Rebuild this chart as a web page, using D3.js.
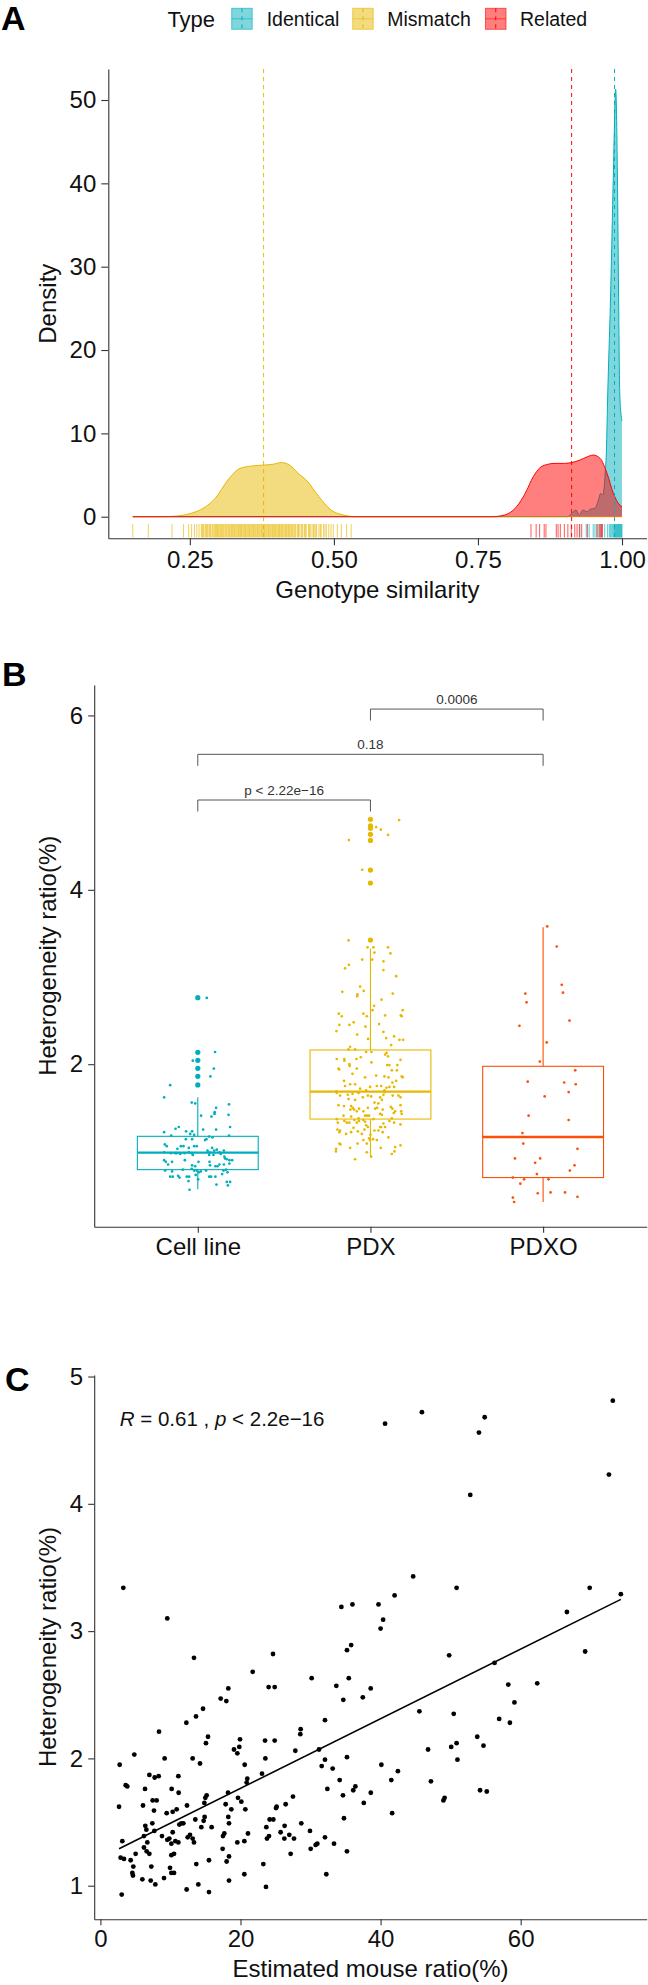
<!DOCTYPE html>
<html><head><meta charset="utf-8">
<script src="https://cdn.jsdelivr.net/npm/d3@7"></script>
<style>body{margin:0;background:#fff}svg{display:block}</style>
</head><body><svg id="c" width="648" height="1985"></svg>
<script>
// ---------------- Panel A data ----------------
const types = ["Identical", "Mismatch", "Related"];
const typeMeans = [0.987, 0.378, 0.9126];
const densityIdentical = [[0.151,0],[0.905,0],[0.913,0.4],[0.920,0.8],[0.926,0.2],[0.932,0.8],[0.939,0.6],[0.945,0.9],[0.953,1.0],[0.959,2.0],[0.963,2.8],[0.967,2.6],[0.971,5.4],[0.973,8],[0.975,14],[0.980,26],[0.985,41],[0.989,51.3],[0.992,41],[0.994,27],[0.996,15],[0.998,12.5],[1.0,11.5]];
const densityMismatch = [[0.151,0],[0.200,0],[0.230,0.1],[0.252,0.4],[0.273,1.0],[0.294,2.2],[0.316,4.4],[0.337,5.8],[0.359,6.1],[0.380,6.2],[0.395,6.3],[0.409,6.5],[0.423,6.2],[0.438,5.2],[0.452,4.4],[0.474,2.4],[0.495,0.8],[0.517,0.2],[0.538,0],[1.0,0]];
const densityRelated = [[0.151,0],[0.774,0],[0.796,0.2],[0.817,1.2],[0.832,2.8],[0.846,4.8],[0.858,5.9],[0.872,6.3],[0.882,6.4],[0.900,6.4],[0.913,6.5],[0.927,6.8],[0.940,7.2],[0.950,7.4],[0.962,7.0],[0.974,5.2],[0.985,2.8],[0.996,1.4],[1.0,1.2]];
const rugMismatch = [0.151,0.178,0.219,0.239,0.248,0.253,0.258,0.262,0.266,0.27,0.2715,0.273,0.2745,0.277,0.279,0.2805,0.283,0.2845,0.286,0.2885,0.29,0.292,0.2935,0.295,0.2965,0.298,0.2995,0.301,0.303,0.3045,0.306,0.3075,0.309,0.311,0.3125,0.314,0.316,0.3175,0.319,0.321,0.3225,0.324,0.326,0.3275,0.329,0.331,0.333,0.3345,0.336,0.338,0.3395,0.341,0.343,0.345,0.3465,0.348,0.35,0.352,0.3535,0.355,0.357,0.359,0.3605,0.362,0.364,0.366,0.3675,0.369,0.371,0.373,0.3745,0.376,0.378,0.3795,0.381,0.383,0.385,0.3865,0.388,0.39,0.392,0.3935,0.395,0.397,0.3985,0.4,0.402,0.404,0.4055,0.407,0.409,0.4105,0.412,0.414,0.416,0.4175,0.419,0.421,0.4225,0.424,0.426,0.4275,0.429,0.431,0.4325,0.434,0.437,0.4385,0.44,0.443,0.4445,0.446,0.449,0.4505,0.452,0.456,0.4575,0.459,0.462,0.4645,0.466,0.4685,0.47,0.474,0.4765,0.478,0.482,0.4845,0.487,0.491,0.495,0.499,0.506,0.513,0.522,0.530];
const rugRelated = [0.842,0.851,0.857,0.865,0.868,0.886,0.889,0.893,0.900,0.906,0.912,0.918,0.922,0.926,0.930,0.940,0.957,0.960,0.963,0.964,0.966];
const rugIdentical = [0.927,0.938,0.943,0.950,0.953,0.956,0.961,0.965,0.970,0.975,0.978,0.980,0.982,0.984,0.985,0.987,0.988,0.989,0.990,0.991,0.992,0.993,0.994,0.995,0.996,0.997,0.998,0.999,1.0];
const ticksA_x = [0.25, 0.50, 0.75, 1.00];
const tickLabelsA_x = ["0.25", "0.50", "0.75", "1.00"];
const ticksA_y = [0, 10, 20, 30, 40, 50];

// ---------------- Panel B data ----------------
const groups = ["Cell line", "PDX", "PDXO"];
const boxQ1 = [0.791, 1.371, 0.70];
const boxMedian = [0.986, 1.685, 1.165];
const boxQ3 = [1.173, 2.163, 1.976];
const whiskerLow = [0.565, 0.94, 0.42];
const whiskerHigh = [1.62, 3.328, 3.57];
const outliersCell = [2.763, 2.136, 2.045, 1.953, 1.861, 1.762];
const outliersPDX = [4.808, 4.735, 4.705, 4.636, 4.567, 4.227, 4.078, 3.424];
const outliersPDXO = [];
const pointsCell = [[0.052,2.76],[0.1,2.14],[-0.029,2.04],[0.093,1.95],[0.073,1.86],[-0.16,1.76],[-0.195,1.62],[-0.035,1.56],[-0.015,1.55],[0.106,1.50],[0.181,1.54],[0.098,1.45],[0.097,1.43],[0.079,1.40],[0.019,1.41],[0.178,1.42],[0.187,1.28],[-0.11,1.28],[-0.129,1.26],[-0.068,1.23],[-0.033,1.23],[-0.195,1.22],[0.031,1.25],[0.106,1.25],[-0.154,1.18],[-0.044,1.20],[-0.021,1.19],[0.066,1.17],[0.085,1.16],[-0.069,1.14],[-0.033,1.14],[0.042,1.13],[0.05,1.14],[0.181,1.18],[-0.191,1.08],[-0.18,1.06],[-0.118,1.03],[-0.098,1.06],[-0.083,1.06],[-0.052,1.04],[-0.021,1.06],[-0.006,1.06],[0.083,1.04],[0.095,1.01],[0.11,1.02],[0.125,0.99],[0.151,1.01],[-0.195,0.99],[-0.156,0.98],[-0.131,0.98],[-0.102,0.97],[-0.077,0.98],[-0.052,0.99],[-0.035,0.98],[0.056,1.01],[0.068,0.99],[0.133,0.97],[0.158,0.92],[0.168,0.91],[0.183,0.90],[0.199,0.90],[0.154,0.94],[-0.195,0.90],[-0.185,0.88],[-0.149,0.88],[-0.172,0.85],[-0.075,0.90],[-0.033,0.84],[-0.015,0.83],[0.004,0.88],[0.068,0.88],[0.071,0.84],[0.102,0.83],[0.114,0.83],[0.125,0.85],[0.183,0.86],[0.151,0.85],[0.066,0.96],[0.091,0.96],[-0.029,0.96],[-0.121,0.98],[-0.189,0.78],[-0.149,0.77],[-0.087,0.79],[-0.035,0.80],[-0.021,0.78],[-0.006,0.78],[0.006,0.76],[0.017,0.77],[0.048,0.78],[0.149,0.78],[0.164,0.79],[0.172,0.76],[0.141,0.74],[-0.012,0.73],[-0.16,0.71],[-0.145,0.71],[-0.114,0.72],[-0.106,0.70],[-0.064,0.71],[-0.05,0.71],[0.066,0.71],[0.077,0.71],[0.102,0.71],[0.002,0.68],[-0.054,0.66],[0.168,0.65],[0.187,0.65],[0.108,0.62],[0.174,0.61],[-0.048,0.56]];
const pointsPDX = [[0.166,4.80],[0.033,4.72],[0.06,4.69],[0.102,4.63],[-0.125,4.57],[-0.048,4.23],[-0.127,3.42],[-0.017,3.34],[0.017,3.34],[0.102,3.34],[0.023,3.28],[0.116,3.27],[-0.048,3.20],[0.01,3.20],[0.075,3.18],[-0.125,3.14],[-0.147,3.10],[0.075,3.08],[0.149,3.01],[-0.06,2.89],[-0.163,2.83],[-0.075,2.80],[-0.077,2.78],[-0.039,2.84],[0.129,2.81],[0.064,2.74],[0.021,2.67],[0.012,2.62],[-0.183,2.58],[-0.166,2.55],[-0.041,2.58],[-0.021,2.55],[0.085,2.56],[0.187,2.62],[0.176,2.56],[0.181,2.55],[-0.097,2.48],[-0.122,2.45],[-0.18,2.45],[-0.197,2.38],[-0.029,2.43],[0.05,2.46],[0.075,2.37],[-0.077,2.34],[-0.014,2.29],[0.091,2.30],[0.137,2.32],[0.168,2.28],[0.189,2.28],[0.12,2.22],[-0.118,2.20],[-0.127,2.17],[-0.089,2.17],[-0.025,2.14],[0.006,2.14],[0.085,2.11],[0.102,2.09],[0.093,2.13],[-0.195,2.06],[-0.151,2.06],[-0.151,2.04],[-0.056,2.08],[-0.081,2.06],[0.006,2.02],[-0.185,1.95],[-0.181,1.94],[-0.122,2.0],[-0.12,1.98],[-0.079,1.95],[-0.104,1.89],[-0.031,1.85],[0.033,1.87],[0.081,1.86],[0.097,1.99],[0.11,1.99],[0.124,1.93],[0.156,1.99],[0.153,1.93],[0.174,2.05],[0.181,1.86],[0.187,1.85],[0.149,1.81],[0.104,1.85],[0.127,1.79],[0.137,1.74],[-0.153,1.81],[-0.118,1.77],[-0.147,1.75],[-0.089,1.77],[-0.06,1.72],[-0.025,1.70],[-0.002,1.74],[0.037,1.75],[0.062,1.75],[0.081,1.70],[0.093,1.73],[0.11,1.74],[-0.197,1.69],[-0.195,1.67],[-0.176,1.64],[-0.131,1.65],[-0.104,1.66],[-0.069,1.67],[-0.044,1.62],[0.004,1.63],[0.056,1.62],[0.075,1.65],[0.083,1.68],[0.129,1.64],[0.162,1.64],[0.174,1.62],[-0.089,1.59],[-0.127,1.60],[-0.015,1.64],[0.023,1.56],[0.046,1.55],[0.066,1.59],[-0.185,1.53],[-0.153,1.52],[-0.112,1.52],[-0.102,1.50],[-0.095,1.48],[-0.066,1.49],[-0.116,1.48],[-0.079,1.46],[-0.041,1.46],[-0.015,1.50],[0.027,1.49],[0.039,1.50],[0.071,1.48],[0.118,1.51],[0.127,1.49],[0.143,1.46],[0.135,1.44],[0.174,1.53],[0.181,1.43],[0.178,1.46],[0.056,1.43],[0.066,1.42],[-0.156,1.41],[-0.112,1.40],[-0.031,1.41],[-0.019,1.41],[-0.008,1.41],[-0.069,1.38],[-0.195,1.37],[-0.189,1.33],[-0.151,1.35],[-0.137,1.33],[-0.122,1.33],[-0.093,1.36],[-0.079,1.33],[-0.066,1.35],[-0.041,1.36],[-0.031,1.34],[0.017,1.37],[-0.025,1.30],[-0.015,1.28],[0.11,1.35],[0.137,1.33],[0.174,1.31],[0.124,1.38],[-0.191,1.25],[-0.176,1.24],[-0.18,1.22],[-0.141,1.20],[-0.112,1.22],[-0.098,1.27],[-0.073,1.23],[-0.05,1.20],[-0.035,1.25],[0,1.19],[0.023,1.24],[0.046,1.24],[0.056,1.28],[0.062,1.28],[0.075,1.32],[0.085,1.28],[0.104,1.16],[0.071,1.22],[-0.008,1.15],[-0.002,1.13],[0.015,1.14],[-0.041,1.13],[-0.075,1.09],[-0.021,1.09],[-0.18,1.09],[-0.174,1.08],[-0.118,1.04],[-0.199,1.03],[-0.2,1.0],[-0.089,0.91],[-0.021,0.99],[0.004,0.94],[0.06,1.04],[0.124,0.97],[0.139,1.0],[0.143,1.05],[0.174,1.07],[0.037,1.13]];
const pointsPDXO = [[0.024,3.58],[0.079,3.35],[0.108,2.91],[0.115,2.82],[-0.103,2.81],[-0.096,2.71],[0.153,2.50],[-0.137,2.44],[0.021,2.25],[-0.019,2.03],[0.186,1.93],[-0.089,1.80],[0.122,1.79],[0.189,1.77],[0.148,1.68],[0.009,1.63],[-0.084,1.41],[0.148,1.36],[-0.12,1.21],[-0.115,1.09],[0.199,1.03],[-0.163,0.92],[-0.017,0.92],[-0.046,0.87],[0.182,0.84],[0.155,0.78],[-0.036,0.74],[-0.175,0.70],[-0.11,0.68],[0.031,0.68],[-0.132,0.63],[-0.031,0.52],[0.043,0.53],[0.127,0.53],[-0.175,0.47],[-0.168,0.42],[0.199,0.48]];
const compPairs = [[1, 2], [1, 3], [2, 3]];
const compLabels = ["p < 2.22e\u221216", "0.18", "0.0006"];
const compLevels = [5.03, 5.554, 6.073];
const ticksB_y = [2, 4, 6];

// ---------------- Panel C data ----------------
const mousePoints = [[3.27,3.34],[9.55,3.10],[34.4,3.19],[13.36,2.79],[24.64,2.82],[21.74,2.68],[30.16,2.63],[24.02,2.56],[24.88,2.56],[33.68,2.57],[34.68,2.46],[18.26,2.55],[17.17,2.47],[17.98,2.45],[14.65,2.39],[13.65,2.33],[12.27,2.28],[8.37,2.21],[32.06,2.30],[15.36,2.17],[15.07,2.12],[19.93,2.15],[19.07,2.07],[19.55,2.04],[19.83,2.09],[23.5,2.14],[24.88,2.14],[28.59,2.23],[28.54,2.19],[27.83,2.06],[31.21,2.07],[4.84,2.03],[2.75,1.95],[9.17,2.0],[13.17,2.0],[14.22,1.96],[20.6,1.95],[23.55,2.0],[32.06,1.99],[31.59,1.94],[33.16,1.92],[6.99,1.87],[7.75,1.85],[8.32,1.86],[3.61,1.79],[3.84,1.78],[10.17,1.76],[11.13,1.86],[11.17,1.73],[6.37,1.76],[7.46,1.67],[8.03,1.67],[7.65,1.59],[6.08,1.63],[2.66,1.62],[9.46,1.57],[10.32,1.58],[10.89,1.60],[12.36,1.63],[15.17,1.71],[14.98,1.69],[14.84,1.65],[18.22,1.73],[20.97,1.84],[20.88,1.81],[23.07,1.88],[19.64,1.69],[20.12,1.66],[17.88,1.64],[18.69,1.60],[20.69,1.60],[25.16,1.62],[25.07,1.61],[26.45,1.64],[27.49,1.70],[13.55,1.52],[14.88,1.54],[14.74,1.51],[18.26,1.54],[18.36,1.49],[24.16,1.52],[24.69,1.52],[23.69,1.46],[26.3,1.47],[28.68,1.49],[6.41,1.47],[6.56,1.44],[7.41,1.49],[7.7,1.43],[11.27,1.48],[11.55,1.49],[11.84,1.49],[10.32,1.42],[3.13,1.35],[6.22,1.39],[6.7,1.34],[8.79,1.39],[9.55,1.36],[9.84,1.37],[10.13,1.33],[10.7,1.35],[11.13,1.34],[12.46,1.38],[12.79,1.40],[13.17,1.37],[13.36,1.34],[14.41,1.46],[15.88,1.46],[17.5,1.39],[17.69,1.41],[17.45,1.29],[19.55,1.34],[20.55,1.35],[21.07,1.41],[23.78,1.37],[24.07,1.39],[25.73,1.42],[26.26,1.37],[26.97,1.40],[27.64,1.37],[29.92,1.43],[30.73,1.32],[30.97,1.33],[30.02,1.29],[32.06,1.38],[33.35,1.33],[34.16,1.83],[34.63,1.71],[34.77,1.53],[32.4,1.76],[2.89,1.22],[3.37,1.21],[4.32,1.20],[5.03,1.25],[6.22,1.30],[6.6,1.27],[6.99,1.25],[4.7,1.15],[4.56,1.10],[4.65,1.08],[5.99,1.05],[7.27,1.15],[7.18,1.04],[7.84,1.01],[9.08,1.06],[9.94,1.14],[10.13,1.10],[10.51,1.10],[10.13,1.24],[10.51,1.25],[12.31,0.97],[13.69,1.17],[13.98,1.01],[15.5,1.20],[15.5,0.95],[18.02,1.19],[18.36,1.23],[18.36,1.04],[20.55,1.09],[23.26,1.17],[23.64,0.99],[27.16,1.25],[32.25,1.09],[3.04,0.93],[35.98,3.21],[39.7,3.21],[42.0,3.28],[40.0,3.02],[40.36,3.09],[35.8,2.89],[35.2,2.85],[35.46,2.63],[37.46,2.48],[38.59,2.55],[50.85,3.34],[49.79,2.81],[45.54,2.37],[50.44,2.35],[46.78,2.07],[50.08,2.09],[50.85,2.12],[50.97,1.99],[47.19,1.82],[49.14,1.69],[48.97,1.67],[42.47,1.90],[40.11,1.95],[41.53,1.83],[41.65,1.57],[53.8,2.17],[54.69,2.10],[54.2,1.75],[55.16,1.74],[56.27,2.75],[56.93,2.31],[58.23,2.58],[58.46,2.28],[59.11,2.44],[62.36,2.59],[66.6,3.15],[69.2,2.84],[69.85,3.34],[74.3,3.29],[35.2,2.01],[35.2,1.27],[36.1,1.75],[36.4,1.78],[37.6,1.65],[38.6,1.73],[40.64,4.63],[45.9,4.72],[54.86,4.68],[54.04,4.56],[52.8,4.07],[73.15,4.81],[72.6,4.23],[44.65,3.43]];
const fitIntercept = 1.218;
const fitSlope = 0.02734;
const ticksC_x = [0, 20, 40, 60];
const ticksC_y = [1, 2, 3, 4, 5];

// ---------------- drawing ----------------
const FONT = '"Liberation Sans", Arial, Helvetica, sans-serif';
const typeColors = {Identical: "#00AFBB", Mismatch: "#E7B800", Related: "#FF0000"};
const groupColors = ["#00AFBB", "#E7B800", "#FC4E07"];
const svg = d3.select("#c");
const intFmt = d3.format("d");

function styleAxis(g, fs) {
  g.attr("font-family", FONT);
  g.selectAll(".domain").attr("stroke", "#333").attr("stroke-width", 1.1);
  g.selectAll(".tick line").attr("stroke", "#333").attr("stroke-width", 1.1);
  g.selectAll(".tick text").attr("fill", "#111").style("font-size", (fs || 24) + "px").style("font-family", FONT);
}
function txt(x, y, s, size, opts) {
  opts = opts || {};
  const t = svg.append("text").attr("x", x).attr("y", y).text(s)
    .style("font-family", FONT).style("font-size", size + "px")
    .attr("fill", opts.fill || "#111").attr("text-anchor", opts.anchor || "start");
  if (opts.weight) t.style("font-weight", opts.weight);
  if (opts.rotate) t.attr("transform", `rotate(-90,${x},${y})`);
  return t;
}

// ===== Panel A =====
const ax = d3.scaleLinear().domain([0.1085, 1.0425]).range([108.3, 646.5]);
const ay = d3.scaleLinear().domain([-2.59, 53.72]).range([538.3, 69]);
const dens = {Identical: densityIdentical, Mismatch: densityMismatch, Related: densityRelated};
const rugs = {Identical: rugIdentical, Mismatch: rugMismatch, Related: rugRelated};
const area = d3.area().x(d => ax(d[0])).y0(ay(0)).y1(d => ay(d[1])).curve(d3.curveMonotoneX);
const line = d3.line().x(d => ax(d[0])).y(d => ay(d[1])).curve(d3.curveMonotoneX);
const gA = svg.append("g");
types.forEach(t => {
  gA.append("path").attr("d", area(dens[t])).attr("fill", typeColors[t]).attr("fill-opacity", 0.5).attr("stroke", "none");
  gA.append("path").attr("d", line(dens[t])).attr("fill", "none").attr("stroke", typeColors[t]).attr("stroke-width", 1);
});
types.forEach((t, i) => {
  gA.append("line").attr("x1", ax(typeMeans[i])).attr("x2", ax(typeMeans[i]))
    .attr("y1", ay.range()[1]).attr("y2", ay.range()[0])
    .attr("stroke", typeColors[t]).attr("stroke-width", 1).attr("stroke-dasharray", "4,4");
});
types.forEach(t => {
  gA.selectAll(null).data(rugs[t]).enter().append("line")
    .attr("x1", d => ax(d)).attr("x2", d => ax(d)).attr("y1", 524).attr("y2", 537.5)
    .attr("stroke", typeColors[t]).attr("stroke-opacity", 0.6).attr("stroke-width", 1.1);
});
const axA = svg.append("g").attr("transform", "translate(0,538.3)")
  .call(d3.axisBottom(ax).tickValues(ticksA_x).tickFormat((d, i) => tickLabelsA_x[i]).tickSize(7).tickSizeOuter(0).tickPadding(6));
styleAxis(axA);
const ayA = svg.append("g").attr("transform", "translate(108.3,0)")
  .call(d3.axisLeft(ay).tickValues(ticksA_y).tickFormat(intFmt).tickSize(7).tickSizeOuter(0).tickPadding(5));
styleAxis(ayA);
txt(377.4, 597.5, "Genotype similarity", 24, {anchor: "middle"});
txt(56.3, 303.7, "Density", 24, {anchor: "middle", rotate: true});
txt(1, 30, "A", 34, {weight: "bold", fill: "#000"});
// legend
txt(167.4, 26.5, "Type", 22);
const legendKeyX = [231.7, 352.7, 485.5];
const legendTextX = [266.7, 387.3, 520];
types.forEach((t, i) => {
  const x0 = legendKeyX[i], y0 = 8.3, w = 20.5, h = 21;
  svg.append("rect").attr("x", x0).attr("y", y0).attr("width", w).attr("height", h)
    .attr("fill", typeColors[t]).attr("fill-opacity", 0.5).attr("stroke", typeColors[t]).attr("stroke-opacity", 0.6).attr("stroke-width", 1);
  svg.append("line").attr("x1", x0).attr("x2", x0 + w).attr("y1", y0 + h / 2).attr("y2", y0 + h / 2)
    .attr("stroke", typeColors[t]).attr("stroke-opacity", 0.55).attr("stroke-width", 1);
  svg.append("line").attr("x1", x0 + w / 2).attr("x2", x0 + w / 2).attr("y1", y0).attr("y2", y0 + h)
    .attr("stroke", typeColors[t]).attr("stroke-width", 1).attr("stroke-dasharray", "4,4");
  txt(legendTextX[i], 25.6, t, 19.5);
});

// ===== Panel B =====
const bx = d3.scaleLinear().domain([0.4, 3.6]).range([94.2, 646.7]);
const by = d3.scaleLinear().domain([0.1365, 6.349]).range([1226.7, 685]);
const gB = svg.append("g");
const outliers = [outliersCell, outliersPDX, outliersPDXO];
const points = [pointsCell, pointsPDX, pointsPDXO];
const boxHalf = 0.35;
groups.forEach((g, i) => {
  const c = groupColors[i], xc = bx(i + 1);
  gB.append("line").attr("x1", xc).attr("x2", xc).attr("y1", by(boxQ3[i])).attr("y2", by(whiskerHigh[i])).attr("stroke", c).attr("stroke-width", 1.1);
  gB.append("line").attr("x1", xc).attr("x2", xc).attr("y1", by(boxQ1[i])).attr("y2", by(whiskerLow[i])).attr("stroke", c).attr("stroke-width", 1.1);
  gB.append("rect").attr("x", bx(i + 1 - boxHalf)).attr("width", bx(i + 1 + boxHalf) - bx(i + 1 - boxHalf))
    .attr("y", by(boxQ3[i])).attr("height", by(boxQ1[i]) - by(boxQ3[i]))
    .attr("fill", "#fff").attr("stroke", c).attr("stroke-width", 1.1);
  gB.append("line").attr("x1", bx(i + 1 - boxHalf)).attr("x2", bx(i + 1 + boxHalf)).attr("y1", by(boxMedian[i])).attr("y2", by(boxMedian[i])).attr("stroke", c).attr("stroke-width", 2.3);
  gB.selectAll(null).data(outliers[i]).enter().append("circle")
    .attr("cx", xc).attr("cy", d => by(d)).attr("r", 2.6).attr("fill", c);
  gB.selectAll(null).data(points[i]).enter().append("circle")
    .attr("cx", d => bx(i + 1 + d[0])).attr("cy", d => by(d[1])).attr("r", 1.35).attr("fill", c);
});
compPairs.forEach((p, k) => {
  const x1 = bx(p[0]), x2 = bx(p[1]), yl = by(compLevels[k]), yt = yl + 11.5;
  gB.append("path").attr("d", `M${x1},${yt}V${yl}H${x2}V${yt}`).attr("fill", "none").attr("stroke", "#555").attr("stroke-width", 1);
  txt((x1 + x2) / 2, yl - 5.5, compLabels[k], 13.5, {anchor: "middle", fill: "#333"});
});
const axB = svg.append("g").attr("transform", "translate(0,1226.7)")
  .call(d3.axisBottom(bx).tickValues([1, 2, 3]).tickFormat((d) => groups[d - 1]).tickSize(6).tickSizeOuter(0).tickPadding(5));
styleAxis(axB);
const ayB = svg.append("g").attr("transform", "translate(94.2,0)")
  .call(d3.axisLeft(by).tickValues(ticksB_y).tickFormat(intFmt).tickSize(6).tickSizeOuter(0).tickPadding(5));
styleAxis(ayB);
txt(56.3, 955.8, "Heterogeneity ratio(%)", 24, {anchor: "middle", rotate: true});
txt(2, 686, "B", 34, {weight: "bold", fill: "#000"});

// ===== Panel C =====
const cx = d3.scaleLinear().domain([-0.885, 77.99]).range([94.2, 646.7]);
const cy = d3.scaleLinear().domain([0.736, 5.012]).range([1919.3, 1375]);
const gC = svg.append("g");
gC.selectAll(null).data(mousePoints).enter().append("circle")
  .attr("cx", d => cx(d[0])).attr("cy", d => cy(d[1])).attr("r", 2.4).attr("fill", "#000");
const xr = d3.extent(mousePoints, d => d[0]);
gC.append("line").attr("x1", cx(xr[0])).attr("x2", cx(xr[1]))
  .attr("y1", cy(fitIntercept + fitSlope * xr[0])).attr("y2", cy(fitIntercept + fitSlope * xr[1]))
  .attr("stroke", "#000").attr("stroke-width", 1.6);
const axC = svg.append("g").attr("transform", "translate(0,1919.3)")
  .call(d3.axisBottom(cx).tickValues(ticksC_x).tickFormat(intFmt).tickSize(6).tickSizeOuter(0).tickPadding(5));
styleAxis(axC);
const ayC = svg.append("g").attr("transform", "translate(94.2,0)")
  .call(d3.axisLeft(cy).tickValues(ticksC_y).tickFormat(intFmt).tickSize(6).tickSizeOuter(0).tickPadding(5));
styleAxis(ayC);
txt(370.5, 1977, "Estimated mouse ratio(%)", 24, {anchor: "middle"});
txt(56.3, 1647, "Heterogeneity ratio(%)", 24, {anchor: "middle", rotate: true});
txt(5, 1391, "C", 34, {weight: "bold", fill: "#000"});
const ann = svg.append("text").attr("x", 119.8).attr("y", 1425.5).style("font-family", FONT).style("font-size", "20.5px").attr("fill", "#111");
ann.append("tspan").style("font-style", "italic").text("R");
ann.append("tspan").text(" = 0.61 , ");
ann.append("tspan").style("font-style", "italic").text("p");
ann.append("tspan").text(" < 2.2e\u221216");
</script></body></html>
